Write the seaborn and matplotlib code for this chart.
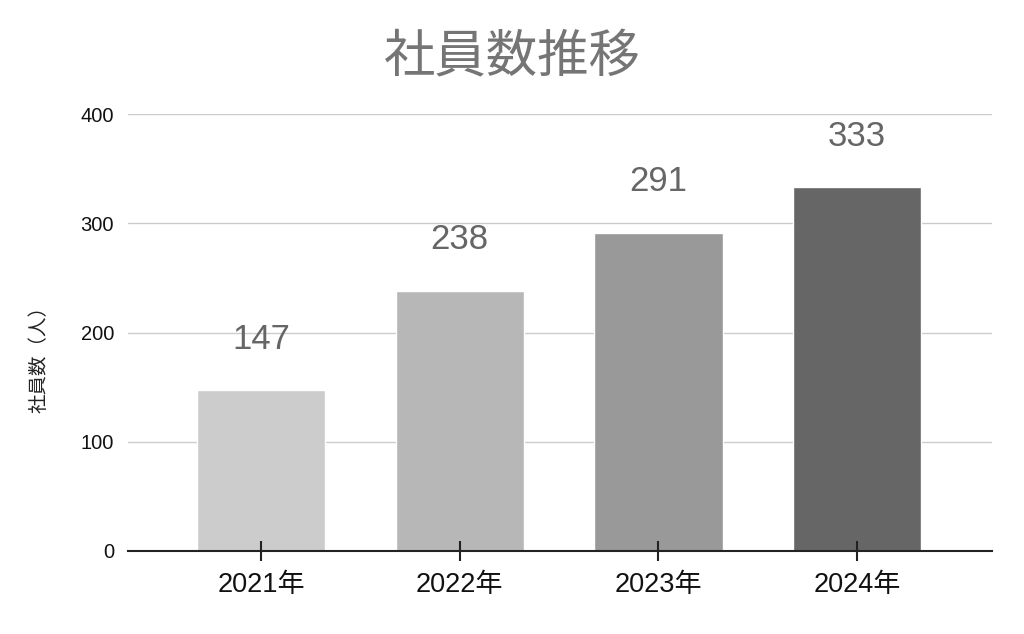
import matplotlib
matplotlib.use("Agg")
import matplotlib.pyplot as plt
import seaborn as sns
import pandas as pd

years = ["2021年", "2022年", "2023年", "2024年"]
employees = [147, 238, 291, 333]
bar_colors = ["#cccccc", "#b7b7b7", "#999999", "#666666"]
y_ticks = [0, 100, 200, 300, 400]

sns.set_theme(style="white")
plt.rcParams["font.family"] = ["Liberation Sans", "Noto Sans CJK JP", "DejaVu Sans"]

df = pd.DataFrame({"year": years, "employees": employees})

fig = plt.figure(figsize=(10.24, 6.34), dpi=100)
ax = fig.add_axes([0.125, 0.131, 0.844, 0.689])

sns.barplot(data=df, x="year", y="employees", hue="year", palette=bar_colors,
            width=0.645, legend=False, ax=ax, saturation=1)

ax.set_xlim(-0.67, 3.68)
ax.set_ylim(0, 400)
ax.set_yticks(y_ticks)
ax.yaxis.grid(True, color="#cccccc", linewidth=1.0)
ax.set_axisbelow(True)
ax.xaxis.set_zorder(3)
for s in ["top", "right", "left"]:
    ax.spines[s].set_visible(False)
ax.spines["bottom"].set_color("#222222")
ax.spines["bottom"].set_linewidth(1.5)
ax.spines["bottom"].set_zorder(5)

ax.tick_params(axis="y", left=False, length=0, labelsize=14.5, colors="#111111", pad=10)
ax.tick_params(axis="x", bottom=True, direction="inout", length=15, width=1.5, color="#222222",
               labelsize=19.5, labelcolor="#111111", pad=8)

ax.set_xlabel("")
ax.set_ylabel("社員数（人）", fontsize=14, color="#222222")
ax.yaxis.set_label_coords(-0.092, 0.45)

for i, v in enumerate(employees):
    ax.annotate(str(v), xy=(i, v), xytext=(0, 25), textcoords="offset points",
                ha="center", va="bottom", fontsize=25, color="#666666")

fig.suptitle("社員数推移", x=0.5, y=0.945, fontsize=37, color="#757575")

fig.savefig("out.png", dpi=100)
